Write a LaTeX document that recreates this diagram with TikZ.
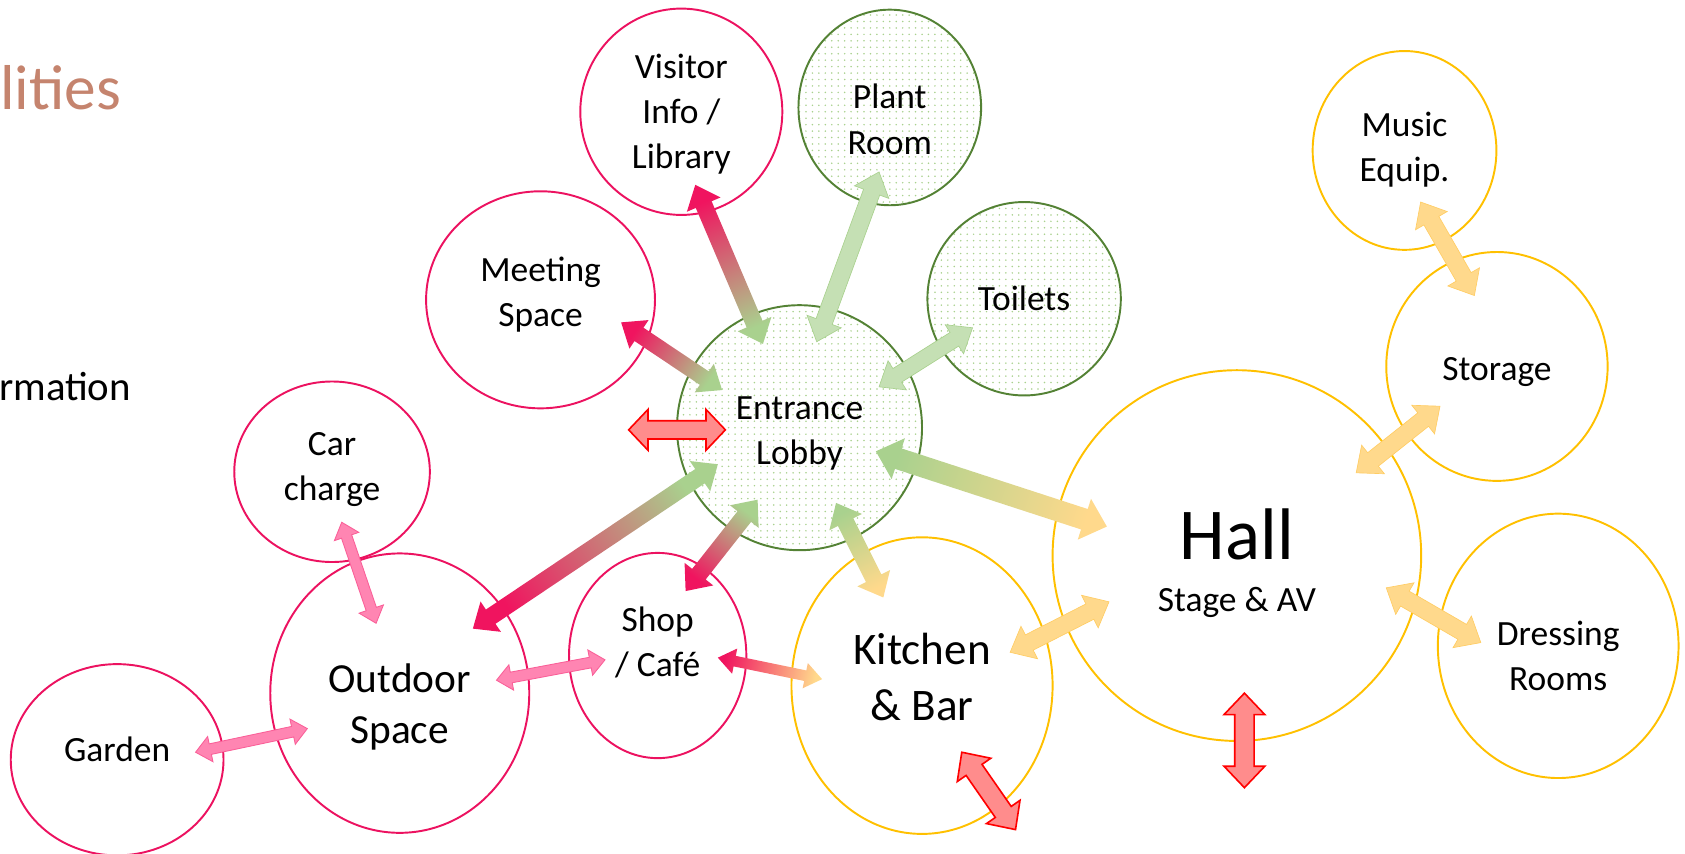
\documentclass[tikz,border=0pt]{standalone}
\usepackage{fontspec}
\setmainfont{Carlito}
\usetikzlibrary{shapes.geometric, calc, patterns.meta}

\definecolor{rosa}{RGB}{236,18,96}
\definecolor{rosafl}{RGB}{240,20,95}
\definecolor{rosacl}{RGB}{255,133,178}
\definecolor{rosab}{RGB}{250,95,152}
\definecolor{verdeosc}{RGB}{84,130,53}
\definecolor{verde}{RGB}{169,209,142}
\definecolor{verdecl}{RGB}{197,224,180}
\definecolor{amarillo}{RGB}{255,192,0}
\definecolor{amarillocl}{RGB}{255,217,140}
\definecolor{amarillob}{RGB}{255,205,100}
\definecolor{rojo}{RGB}{255,0,0}
\definecolor{rojocl}{RGB}{255,140,140}
\definecolor{titulo}{RGB}{197,132,110}

% flecha doble: estilo, desde, hasta, medio ancho, medio ancho punta, largo punta
\newcommand{\flecha}[6]{%
  \path #2 coordinate (fa);
  \path #3 coordinate (fb);
  \pgfpointdiff{\pgfpointanchor{fa}{center}}{\pgfpointanchor{fb}{center}}%
  \pgfgetlastxy{\fdx}{\fdy}%
  \pgfmathsetmacro{\fang}{atan2(\fdy, \fdx)}%
  \pgfmathsetmacro{\flen}{veclen(\fdx, \fdy)}%
  \pgfmathsetmacro{\fsh}{\fang+90}%
  \begin{scope}[shift={(fa)}, rotate=\fang]
    \path[#1] (0pt, 0pt) -- (#6pt, #5pt) -- (#6pt, #4pt) -- (\flen pt-#6pt, #4pt)
      -- (\flen pt-#6pt, #5pt) -- (\flen pt, 0pt) -- (\flen pt-#6pt, -#5pt)
      -- (\flen pt-#6pt, -#4pt) -- (#6pt, -#4pt) -- (#6pt, -#5pt) -- cycle;
  \end{scope}
}

\begin{document}
\begin{tikzpicture}[x=1pt, y=-1pt,
    sala/.style={ellipse, line width=1.8pt, inner sep=0pt},
    salarosa/.style={sala, draw=rosa},
    salaverde/.style={sala, draw=verdeosc,
      pattern={Dots[distance=6pt, radius=0.8pt]}, pattern color=verde},
    salaamarilla/.style={sala, draw=amarillo},
    tam/.style 2 args={minimum width=#1pt, minimum height=#2pt},
    texto/.style={align=center, inner sep=0pt, font=\fontsize{33}{42}\selectfont},
    grad/.style 2 args={left color=#1, right color=#2, shading angle=\fsh},
    fverde/.style={fill=verdecl, draw=verde, line width=0.6pt},
    frosa/.style={fill=rosacl, draw=rosab, line width=0.8pt},
    famarilla/.style={fill=amarillocl, draw=amarillob, line width=0.6pt},
    froja/.style={fill=rojocl, draw=rojo, line width=1.5pt}]

  % Marco de la imagen
  \useasboundingbox (0, 0) rectangle (1568, 794);

  % Textos cortados a la izquierda
  \node[anchor=base west, inner sep=0pt, text=titulo, font=\fontsize{59}{70}\selectfont] (titulo) at (0, 102) {lities};
  \node[anchor=base west, inner sep=0pt, font=\fontsize{38}{46}\selectfont] (info) at (-1, 373) {rmation};

  % Salas de la recepcion
  \node[salarosa, tam={188}{192}] (visitor) at (634, 104) {};
  \node[salaverde, tam={170}{182}] (plant) at (828, 100) {};
  \node[salarosa, tam={213}{202}] (meeting) at (503, 279) {};
  \node[salaverde, tam={180}{180}] (toilets) at (953, 278) {};
  \node[salaverde, tam={228}{228}] (lobby) at (744, 398) {};

  % Zona exterior
  \node[salarosa, tam={182}{168}] (car) at (309, 439) {};
  \node[salarosa, tam={165}{191}] (shop) at (612, 610) {};
  \node[salarosa, tam={241}{260}] (outdoor) at (372, 645) {};
  \node[salarosa, tam={198}{178}] (garden) at (109, 707) {};

  % Sala principal y anexos
  \node[salaamarilla, tam={243}{276}] (kitchen) at (858, 638) {};
  \node[salaamarilla, tam={343}{345}] (hall) at (1151, 517) {};
  \node[salaamarilla, tam={171}{185}] (music) at (1307, 140) {};
  \node[salaamarilla, tam={206}{213}] (storage) at (1393, 341) {};
  \node[salaamarilla, tam={224}{246}] (dressing) at (1450, 601) {};

  % Nombres de las salas
  \node[texto] (visitor-t) at ($(visitor)+(0, 2)$) {Visitor\\Info /\\Library};
  \node[texto] (plant-t) at ($(plant)+(0, 11)$) {Plant\\Room};
  \node[texto] (meeting-t) at ($(meeting)+(0, -5)$) {Meeting\\Space};
  \node[texto] (toilets-t) at (toilets) {Toilets};
  \node[texto] (lobby-t) at ($(lobby)+(0, 5)$) {Entrance\\Lobby};
  \node[texto] (car-t) at ($(car)+(0, -2)$) {Car\\charge};
  \node[texto] (shop-t) at ($(shop)+(0, -12)$) {Shop\\/ Café};
  \node[texto, font=\fontsize{38.5}{47}\selectfont] (outdoor-t) at ($(outdoor)+(0, 13)$) {Outdoor\\Space};
  \node[texto] (garden-t) at ($(garden)+(0, -10)$) {Garden};
  \node[texto, font=\fontsize{42}{52}\selectfont] (kitchen-t) at ($(kitchen)+(0, -8)$) {Kitchen\\\& Bar};
  \node[texto, font=\fontsize{68}{48}\selectfont] (hall-t) at ($(hall)+(0, 7)$) {Hall\\{\fontsize{33}{42}\selectfont Stage \& AV}};
  \node[texto] (music-t) at ($(music)+(0, -1)$) {Music\\Equip.};
  \node[texto] (storage-t) at ($(storage)+(0, 5)$) {Storage};
  \node[texto] (dressing-t) at ($(dressing)+(0, 9)$) {Dressing\\Rooms};

  % Extremos sueltos de las flechas rojas
  \coordinate (rojaA1) at ($(lobby)+(-159, 2)$);
  \coordinate (rojaA2) at ($(lobby)+(-69, 2)$);
  \coordinate (rojaB1) at ($(kitchen)+(37, 62)$);
  \coordinate (rojaB2) at ($(kitchen)+(87, 134)$);
  \coordinate (rojaC1) at ($(hall)+(7, 128)$);
  \coordinate (rojaC2) at ($(hall)+(7, 216)$);

  % Flechas de la recepcion
  \flecha{grad={rosafl}{verde}}{($(visitor)+(13, 68)$)}{($(lobby)+(-34, -78)$)}{8}{17}{20}
  \flecha{fverde}{($(plant)+(-10, 60)$)}{($(lobby)+(16, -80)$)}{8}{17}{20}
  \flecha{grad={rosafl}{verde}}{($(meeting)+(75, 21)$)}{($(lobby)+(-72, -35)$)}{7.5}{16}{20}
  \flecha{fverde}{($(toilets)+(-48, 27)$)}{($(lobby)+(74, -38)$)}{7.5}{16}{20}
  \flecha{grad={verde}{amarillocl}}{($(lobby)+(71, 22)$)}{($(hall)+(-121, -27)$)}{10}{20}{22}
  \flecha{grad={verde}{rosafl}}{($(lobby)+(-76, 34)$)}{($(outdoor)+(68, -60)$)}{8}{17}{20}
  \flecha{grad={verde}{rosafl}}{($(lobby)+(-39, 67)$)}{($(shop)+(26, -60)$)}{8}{17}{20}
  \flecha{grad={verde}{amarillocl}}{($(lobby)+(34, 70)$)}{($(kitchen)+(-36, -82)$)}{8}{17}{20}

  % Flechas rosas del exterior
  \flecha{frosa}{($(car)+(9, 47)$)}{($(outdoor)+(-22, -65)$)}{5}{12}{14}
  \flecha{frosa}{($(outdoor)+(90, -12)$)}{($(shop)+(-49, 4)$)}{5}{12}{14}
  \flecha{frosa}{($(garden)+(73, -7)$)}{($(outdoor)+(-86, 33)$)}{5}{12}{14}
  \flecha{grad={rosafl}{amarillocl}}{($(shop)+(56, 2)$)}{($(kitchen)+(-93, -6)$)}{5}{12}{16}

  % Flechas amarillas
  \flecha{famarilla}{($(kitchen)+(82, -31)$)}{($(hall)+(-119, 43)$)}{8}{17}{20}
  \flecha{famarilla}{($(music)+(15, 48)$)}{($(storage)+(-21, -66)$)}{8}{17}{20}
  \flecha{famarilla}{($(storage)+(-53, 37)$)}{($(hall)+(111, -77)$)}{8}{17}{20}
  \flecha{famarilla}{($(hall)+(139, 30)$)}{($(dressing)+(-72, -3)$)}{8}{17}{20}

  % Flechas rojas sueltas
  \flecha{froja}{(rojaA1)}{(rojaA2)}{8.5}{19}{18}
  \flecha{froja}{(rojaB1)}{(rojaB2)}{9}{19}{20}
  \flecha{froja}{(rojaC1)}{(rojaC2)}{9}{19}{20}
\end{tikzpicture}
\end{document}
